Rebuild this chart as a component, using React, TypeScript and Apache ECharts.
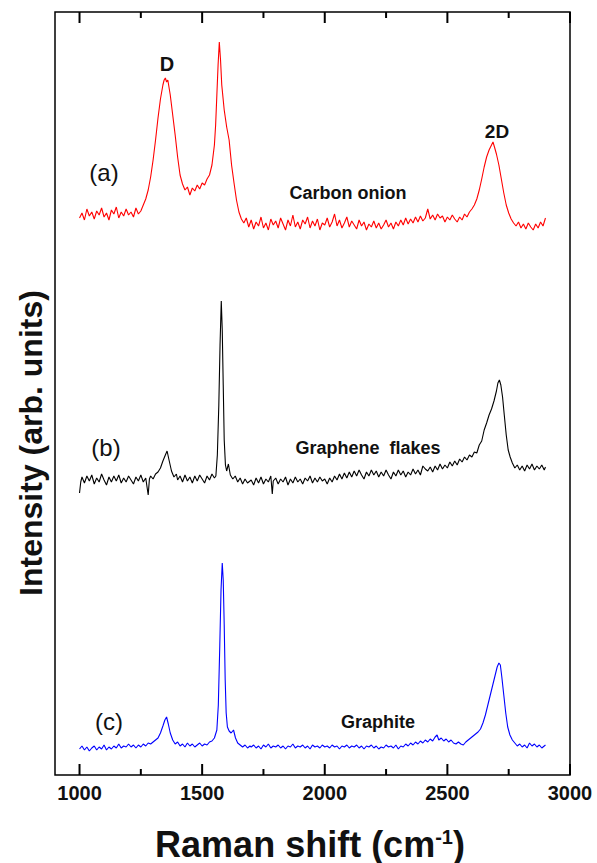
import React, { useEffect, useRef } from "react";
import * as echarts from "echarts";

// Raman shift (cm^-1) vs intensity (arb. units, stacked offsets as drawn)
const carbonOnion: [number, number][] = [
  [1000, 557], [1010, 562], [1020, 555], [1030, 566], [1040, 559], [1050, 563], [1060, 556], [1070, 564],
  [1080, 560], [1090, 567], [1100, 558], [1110, 562], [1120, 555], [1130, 565], [1140, 561], [1150, 568],
  [1160, 557], [1170, 563], [1180, 559], [1190, 566], [1200, 560], [1210, 563], [1220, 558], [1230, 567],
  [1240, 561], [1250, 564], [1260, 570], [1270, 576], [1280, 585], [1290, 598], [1300, 615], [1310, 635],
  [1320, 657], [1330, 676], [1340, 690], [1345, 695], [1350, 697], [1355, 693], [1360, 695], [1370, 680],
  [1380, 660], [1390, 640], [1400, 618], [1410, 600], [1420, 591], [1430, 585], [1440, 588], [1450, 580],
  [1460, 587], [1470, 584], [1480, 590], [1490, 586], [1500, 592], [1510, 590], [1520, 596], [1530, 600],
  [1540, 610], [1550, 630], [1555, 650], [1560, 680], [1565, 710], [1570, 733], [1575, 715], [1580, 690],
  [1590, 665], [1600, 648], [1610, 635], [1620, 610], [1630, 592], [1640, 575], [1650, 563], [1660, 556],
  [1670, 552], [1680, 557], [1690, 548], [1700, 555], [1710, 546], [1720, 553], [1730, 549], [1740, 558],
  [1750, 547], [1760, 552], [1770, 545], [1780, 556], [1790, 550], [1800, 554], [1810, 547], [1820, 557],
  [1830, 551], [1840, 545], [1850, 555], [1860, 549], [1870, 560], [1880, 548], [1890, 553], [1900, 546],
  [1910, 555], [1920, 551], [1930, 558], [1940, 547], [1950, 554], [1960, 549], [1970, 556], [1980, 545],
  [1990, 552], [2000, 550], [2010, 557], [2020, 548], [2030, 553], [2040, 561], [2050, 549], [2060, 555],
  [2070, 547], [2080, 552], [2090, 558], [2100, 548], [2110, 554], [2120, 550], [2130, 546], [2140, 555],
  [2150, 549], [2160, 553], [2170, 545], [2180, 551], [2190, 548], [2200, 554], [2210, 547], [2220, 552],
  [2230, 546], [2240, 550], [2250, 555], [2260, 548], [2270, 552], [2280, 546], [2290, 553], [2300, 549],
  [2310, 555], [2320, 550], [2330, 557], [2340, 551], [2350, 556], [2360, 552], [2370, 558], [2380, 553],
  [2390, 559], [2400, 554], [2410, 557], [2420, 566], [2430, 556], [2440, 560], [2450, 555], [2460, 561],
  [2470, 557], [2480, 559], [2490, 553], [2500, 558], [2510, 555], [2520, 560], [2530, 556], [2540, 553],
  [2550, 558], [2560, 555], [2570, 561], [2580, 558], [2590, 563], [2600, 566], [2610, 570], [2620, 576],
  [2630, 585], [2640, 596], [2650, 608], [2660, 618], [2670, 625], [2680, 630], [2686, 633], [2692, 628],
  [2700, 621], [2710, 610], [2720, 596], [2730, 582], [2740, 570], [2750, 562], [2760, 556], [2770, 552],
  [2780, 549], [2790, 553], [2800, 547], [2810, 551], [2820, 546], [2830, 552], [2840, 548], [2850, 545],
  [2860, 551], [2870, 547], [2880, 553], [2890, 549], [2900, 557],
];

const grapheneFlakes: [number, number][] = [
  [1000, 282], [1005, 293], [1010, 298], [1020, 292], [1030, 299], [1040, 294], [1050, 300], [1060, 291],
  [1070, 297], [1080, 293], [1090, 301], [1100, 295], [1110, 290], [1120, 298], [1130, 293], [1140, 299],
  [1150, 294], [1160, 300], [1170, 292], [1180, 297], [1190, 293], [1200, 299], [1210, 295], [1220, 291],
  [1230, 298], [1240, 294], [1250, 300], [1260, 293], [1270, 297], [1280, 280], [1285, 296], [1290, 299],
  [1300, 296], [1310, 301], [1320, 303], [1330, 307], [1340, 314], [1350, 320], [1357, 324], [1365, 315],
  [1375, 304], [1385, 298], [1395, 301], [1400, 295], [1410, 299], [1420, 293], [1430, 300], [1440, 294],
  [1450, 298], [1460, 292], [1470, 299], [1480, 294], [1490, 300], [1500, 296], [1510, 292], [1520, 299],
  [1530, 295], [1540, 301], [1550, 297], [1556, 299], [1562, 320], [1568, 370], [1573, 430], [1578, 474],
  [1582, 445], [1586, 390], [1590, 335], [1595, 310], [1600, 304], [1607, 311], [1615, 300], [1625, 296],
  [1635, 299], [1645, 293], [1655, 297], [1665, 291], [1675, 296], [1685, 292], [1700, 295], [1710, 290],
  [1720, 297], [1730, 292], [1740, 298], [1750, 291], [1760, 296], [1770, 293], [1780, 299], [1786, 281],
  [1790, 294], [1800, 297], [1810, 291], [1820, 296], [1830, 293], [1840, 298], [1850, 290], [1860, 296],
  [1870, 292], [1880, 298], [1890, 293], [1900, 296], [1910, 291], [1920, 297], [1930, 294], [1940, 299],
  [1950, 292], [1960, 297], [1970, 293], [1980, 298], [1990, 294], [2000, 296], [2010, 291], [2020, 297],
  [2030, 293], [2040, 299], [2050, 295], [2060, 301], [2070, 296], [2080, 302], [2090, 297], [2100, 303],
  [2110, 298], [2120, 304], [2130, 299], [2140, 305], [2150, 300], [2160, 296], [2170, 303], [2180, 299],
  [2190, 305], [2200, 300], [2210, 304], [2220, 298], [2230, 303], [2240, 299], [2250, 305], [2260, 300],
  [2270, 296], [2280, 303], [2290, 299], [2300, 305], [2310, 300], [2320, 304], [2330, 298], [2340, 303],
  [2350, 300], [2360, 306], [2370, 301], [2380, 305], [2390, 300], [2400, 309], [2410, 306], [2420, 304],
  [2430, 308], [2440, 303], [2450, 309], [2460, 305], [2470, 311], [2480, 306], [2490, 310], [2500, 307],
  [2510, 313], [2520, 309], [2530, 314], [2540, 310], [2550, 316], [2560, 313], [2570, 318], [2580, 315],
  [2590, 320], [2600, 318], [2610, 323], [2620, 322], [2630, 330], [2640, 334], [2650, 345], [2660, 352],
  [2670, 360], [2680, 366], [2690, 374], [2700, 384], [2706, 392], [2712, 395], [2718, 390], [2725, 378],
  [2732, 360], [2740, 340], [2748, 325], [2756, 318], [2765, 312], [2775, 307], [2785, 310], [2795, 305],
  [2805, 309], [2815, 304], [2825, 310], [2835, 306], [2845, 311], [2855, 305], [2865, 309], [2875, 306],
  [2885, 310], [2895, 305], [2900, 308],
];

const graphite: [number, number][] = [
  [1000, 26], [1010, 29], [1020, 25], [1030, 28], [1040, 24], [1050, 27], [1060, 29], [1070, 25],
  [1080, 28], [1090, 26], [1100, 30], [1110, 25], [1120, 28], [1130, 26], [1140, 29], [1150, 27],
  [1160, 31], [1170, 27], [1180, 29], [1190, 28], [1200, 31], [1210, 28], [1220, 30], [1230, 27],
  [1240, 30], [1250, 28], [1260, 31], [1270, 29], [1280, 32], [1290, 31], [1300, 33], [1310, 35],
  [1320, 37], [1330, 42], [1340, 49], [1348, 55], [1355, 58], [1362, 51], [1370, 42], [1380, 35],
  [1390, 31], [1400, 33], [1410, 29], [1420, 31], [1430, 28], [1440, 32], [1450, 29], [1460, 31],
  [1470, 28], [1480, 30], [1490, 32], [1500, 29], [1510, 31], [1520, 30], [1530, 33], [1540, 34],
  [1550, 37], [1560, 45], [1566, 70], [1572, 130], [1577, 185], [1582, 212], [1586, 195], [1590, 150],
  [1594, 95], [1598, 62], [1603, 48], [1610, 44], [1618, 42], [1628, 45], [1636, 37], [1645, 32],
  [1655, 30], [1665, 28], [1675, 30], [1685, 27], [1695, 29], [1700, 28], [1710, 30], [1720, 27],
  [1730, 29], [1740, 26], [1750, 30], [1760, 28], [1770, 31], [1780, 27], [1790, 29], [1800, 28],
  [1810, 30], [1820, 27], [1830, 29], [1840, 26], [1850, 29], [1860, 28], [1870, 31], [1880, 27],
  [1890, 29], [1900, 28], [1910, 30], [1920, 27], [1930, 29], [1940, 26], [1950, 30], [1960, 28],
  [1970, 29], [1980, 27], [1990, 30], [2000, 28], [2010, 29], [2020, 27], [2030, 30], [2040, 28],
  [2050, 29], [2060, 26], [2070, 29], [2080, 28], [2090, 30], [2100, 27], [2110, 29], [2120, 28],
  [2130, 30], [2140, 27], [2150, 29], [2160, 26], [2170, 29], [2180, 28], [2190, 30], [2200, 27],
  [2210, 29], [2220, 26], [2230, 28], [2240, 27], [2250, 30], [2260, 28], [2270, 29], [2280, 27],
  [2290, 30], [2300, 26], [2310, 29], [2320, 28], [2330, 31], [2340, 29], [2350, 32], [2360, 30],
  [2370, 33], [2380, 31], [2390, 34], [2400, 32], [2410, 35], [2420, 33], [2430, 36], [2440, 34],
  [2450, 38], [2458, 40], [2465, 35], [2475, 37], [2485, 34], [2495, 36], [2505, 33], [2515, 35],
  [2525, 32], [2535, 31], [2545, 33], [2555, 31], [2565, 30], [2575, 33], [2585, 35], [2595, 37],
  [2605, 39], [2615, 41], [2625, 43], [2635, 46], [2645, 52], [2655, 60], [2665, 70], [2675, 80],
  [2685, 90], [2695, 100], [2703, 108], [2710, 112], [2716, 110], [2722, 98], [2730, 80], [2738, 62],
  [2746, 48], [2755, 40], [2765, 35], [2775, 32], [2785, 29], [2795, 31], [2805, 28], [2815, 30],
  [2825, 27], [2835, 32], [2845, 29], [2855, 31], [2865, 28], [2875, 30], [2885, 27], [2895, 29],
  [2900, 30],
];

const majorTicks = [1000, 1500, 2000, 2500, 3000];
const minorTicks = [1250, 1750, 2250, 2750];
const X_MIN = 900;
const X_MAX = 3000;
const Y_MAX = 763;

const FONT = "'Liberation Sans', Arial, sans-serif";

export default function App() {
  const ref = useRef<HTMLDivElement>(null);
  useEffect(() => {
    if (!ref.current) return;
    const chart = echarts.init(ref.current, undefined, { renderer: "svg" });
    const tickData = [
      ...majorTicks.map((v) => [v, 11]),
      ...minorTicks.map((v) => [v, 6]),
    ];
    chart.setOption({
      animation: false,
      backgroundColor: "#fff",
      grid: {
        left: 55,
        right: 27,
        top: 12,
        bottom: 88,
        show: true,
        borderColor: "#000",
        borderWidth: 1.5,
      },
      xAxis: {
        type: "value",
        min: X_MIN,
        max: X_MAX,
        axisLine: { show: false },
        splitLine: { show: false },
        axisTick: { show: false },
        axisLabel: {
          show: true,
          customValues: majorTicks,
          formatter: (v: number) => String(v),
          fontSize: 20,
          fontWeight: "bold",
          fontFamily: FONT,
          color: "#111",
          margin: 8,
        },
      },
      yAxis: {
        type: "value",
        min: 0,
        max: Y_MAX,
        axisLine: { show: false },
        axisTick: { show: false },
        axisLabel: { show: false },
        splitLine: { show: false },
      },
      series: [
        {
          type: "custom",
          clip: false,
          z: 10,
          data: tickData,
          renderItem: (_params: any, api: any) => {
            const x = api.value(0);
            const len = api.value(1);
            const pb = api.coord([x, 0]);
            const pt = api.coord([x, Y_MAX]);
            const style = { stroke: "#000", lineWidth: 2 };
            return {
              type: "group",
              children: [
                { type: "line", shape: { x1: pb[0], y1: pb[1], x2: pb[0], y2: pb[1] - len }, style },
                { type: "line", shape: { x1: pt[0], y1: pt[1], x2: pt[0], y2: pt[1] + len }, style },
              ],
            };
          },
        },
        ...[
          { name: "Carbon onion", data: carbonOnion, color: "#ff0000" },
          { name: "Graphene flakes", data: grapheneFlakes, color: "#000000" },
          { name: "Graphite", data: graphite, color: "#0000ff" },
        ].map((s) => ({
          type: "line",
          name: s.name,
          data: s.data,
          showSymbol: false,
          silent: true,
          lineStyle: { color: s.color, width: 1.1 },
        })),
      ],
      graphic: [
        {
          type: "text",
          x: 31,
          y: 443,
          rotation: Math.PI / 2,
          style: {
            text: "Intensity (arb. units)",
            fontSize: 32,
            fontWeight: "bold",
            fontFamily: FONT,
            fill: "#111",
            align: "center",
            verticalAlign: "middle",
          },
        },
        {
          type: "text",
          x: 310,
          y: 844,
          style: {
            text: "{n|Raman shift (cm}{s|-1}{n|)}",
            align: "center",
            verticalAlign: "middle",
            rich: {
              n: { fontSize: 36, fontWeight: "bold", fontFamily: FONT, fill: "#111", lineHeight: 34 },
              s: { fontSize: 20, fontWeight: "bold", fontFamily: FONT, fill: "#111", verticalAlign: "top", lineHeight: 18 },
            },
          },
        },
        ...[
          { t: "D", x: 167, y: 64, size: 20, bold: true },
          { t: "2D", x: 497, y: 131, size: 19, bold: true },
          { t: "(a)", x: 104, y: 172, size: 24, bold: false },
          { t: "(b)", x: 106, y: 447, size: 24, bold: false },
          { t: "(c)", x: 109, y: 721, size: 24, bold: false },
          { t: "Carbon onion", x: 348, y: 193, size: 18, bold: true },
          { t: "Graphene  flakes", x: 368, y: 448, size: 18, bold: true },
          { t: "Graphite", x: 378, y: 722, size: 18, bold: true },
        ].map((a) => ({
          type: "text",
          x: a.x,
          y: a.y,
          style: {
            text: a.t,
            fontSize: a.size,
            fontWeight: a.bold ? "bold" : "normal",
            fontFamily: FONT,
            fill: "#111",
            align: "center",
            verticalAlign: "middle",
          },
        })),
      ],
    });
    return () => chart.dispose();
  }, []);
  return (
    <div
      ref={ref}
      style={{ position: "absolute", left: 0, top: 0, width: 597, height: 863, background: "#fff" }}
    />
  );
}
